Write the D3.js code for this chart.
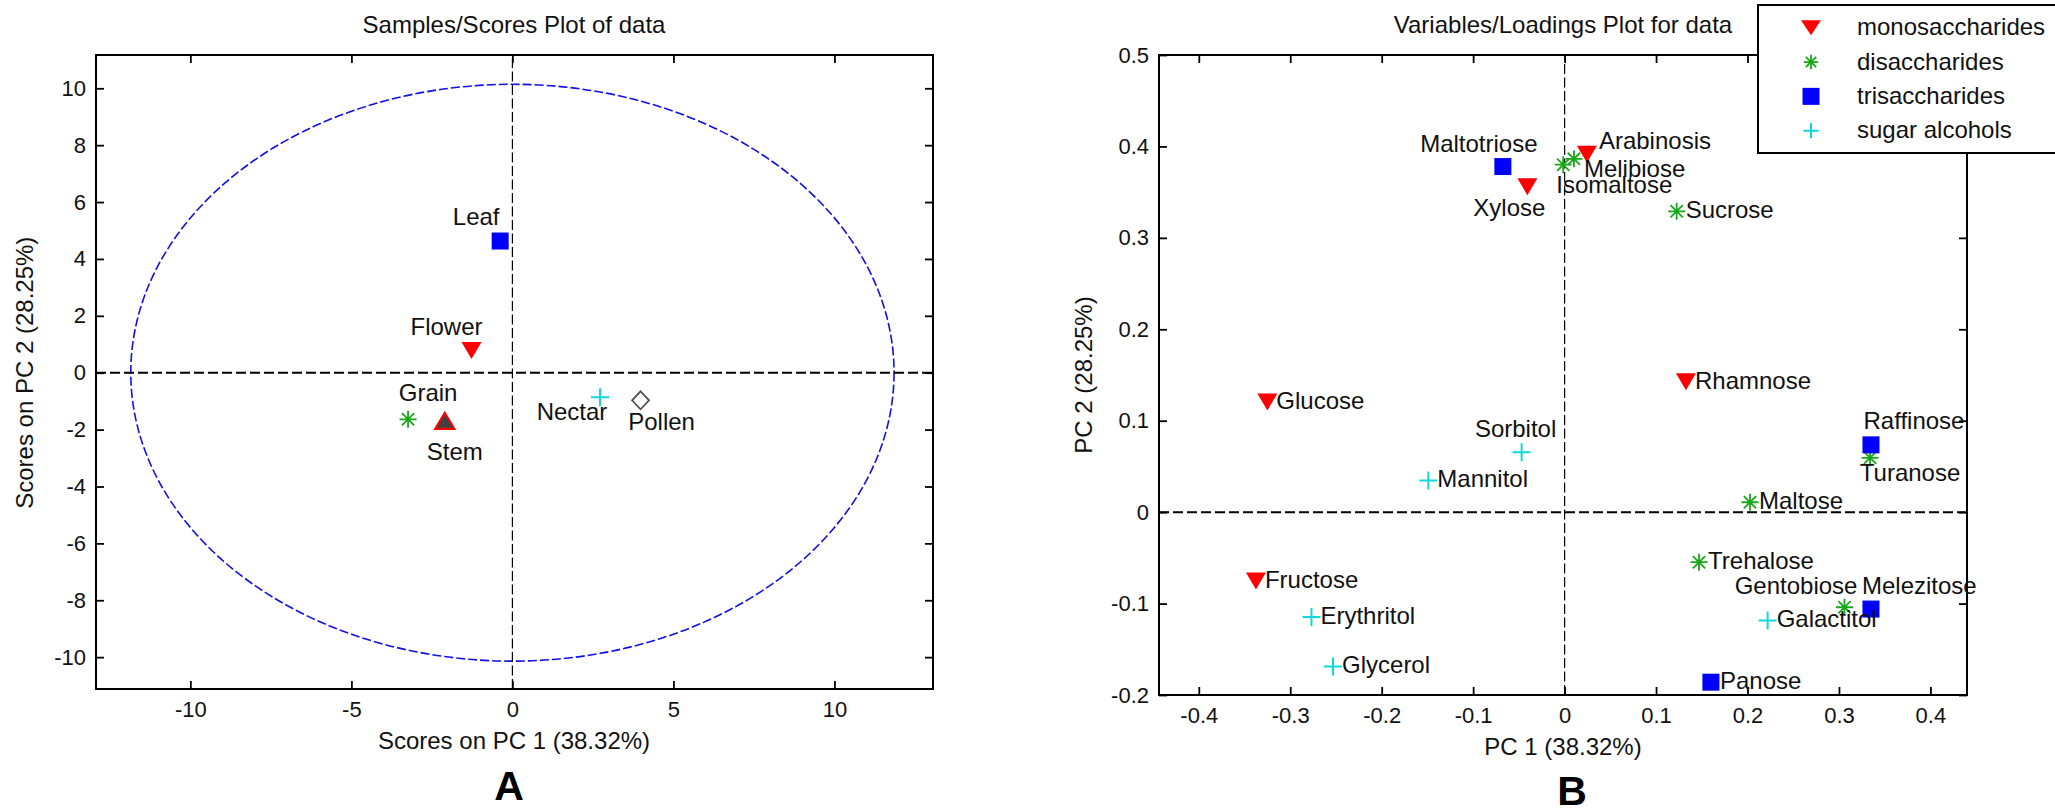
<!DOCTYPE html>
<html>
<head>
<meta charset="utf-8">
<script src="https://cdn.jsdelivr.net/npm/d3@7"></script>
<style>
  body { margin: 0; background: #fff; }
  text { font-family: "Liberation Sans", Arial, sans-serif; }
</style>
</head>
<body>
<svg id="chart" width="2055" height="809"></svg>
<script>
// ---- plot A: scores ----
var sampleNames = ["Leaf", "Flower", "Grain", "Stem", "Nectar", "Pollen"];
var samplePC1 = [-0.38, -1.27, -3.24, -2.10, 2.72, 3.98];
var samplePC2 = [4.63, 0.78, -1.64, -1.69, -0.86, -0.97];
var ellipseRadii = [11.85, 10.14];   // 95% confidence limit, PC1 / PC2

var scoreXTicks = [-10, -5, 0, 5, 10];
var scoreXLabels = ["-10", "-5", "0", "5", "10"];
var scoreYTicks = [-10, -8, -6, -4, -2, 0, 2, 4, 6, 8, 10];
var scoreYLabels = ["-10", "-8", "-6", "-4", "-2", "0", "2", "4", "6", "8", "10"];

// ---- plot B: loadings ----
var groupNames = ["monosaccharides", "disaccharides", "trisaccharides", "sugar alcohols"];

var monoNames = ["Arabinosis", "Xylose", "Rhamnose", "Glucose", "Fructose"];
var monoPC1 = [0.0244, -0.0407, 0.1327, -0.325, -0.3375];
var monoPC2 = [0.3915, 0.356, 0.1425, 0.1206, -0.0754];

var diNames = ["Melibiose", "Isomaltose", "Sucrose", "Maltose", "Trehalose", "Turanose", "Gentobiose"];
var diPC1 = [0.0102, -0.0015, 0.1225, 0.2027, 0.147, 0.334, 0.306];
var diPC2 = [0.3864, 0.380, 0.329, 0.0108, -0.0547, 0.0594, -0.104];

var triNames = ["Maltotriose", "Raffinose", "Melezitose", "Panose"];
var triPC1 = [-0.0675, 0.335, 0.335, 0.16];
var triPC2 = [0.378, 0.0736, -0.106, -0.186];

var alcNames = ["Sorbitol", "Mannitol", "Erythritol", "Glycerol", "Galactitol"];
var alcPC1 = [-0.047, -0.149, -0.2768, -0.2532, 0.222];
var alcPC2 = [0.0656, 0.0347, -0.1148, -0.1688, -0.1184];

var loadXTicks = [-0.4, -0.3, -0.2, -0.1, 0, 0.1, 0.2, 0.3, 0.4];
var loadXLabels = ["-0.4", "-0.3", "-0.2", "-0.1", "0", "0.1", "0.2", "0.3", "0.4"];
var loadYTicks = [-0.2, -0.1, 0, 0.1, 0.2, 0.3, 0.4, 0.5];
var loadYLabels = ["-0.2", "-0.1", "0", "0.1", "0.2", "0.3", "0.4", "0.5"];

// marker looks
var RED = "#ff0000", GREEN = "#18a818", BLUE = "#0000ff", CYAN = "#10d8dc";
var groupMarker = ["tridown", "asterisk", "square", "plus"];
var sampleMarker = ["square", "tridown", "asterisk", "triup", "plus", "diamond"];

// hand placed label nudges (pixels), [anchor, dx, dy]
var labelNudge = {
  Leaf: ["middle", -24, -16], Flower: ["middle", -25, -16], Grain: ["middle", 20, -18],
  Stem: ["middle", 10, 39], Nectar: ["middle", -28, 23], Pollen: ["middle", 21, 30],
  Maltotriose: ["middle", -24, -15], Xylose: ["middle", -18, 29], Arabinosis: ["start", 12, -5],
  Melibiose: ["start", 10, 18], Isomaltose: ["start", -7, 28], Sorbitol: ["middle", -6, -15],
  Raffinose: ["middle", 43, -16], Turanose: ["middle", 40, 23], Melezitose: ["start", -9, -15],
  Gentobiose: ["end", 13, -13]
};
var defaultNudge = ["start", 9, 7];

var svg = d3.select("#chart");
var FONT = "Liberation Sans, Arial, sans-serif";

function drawMarker(g, type, cx, cy, small) {
  var k = small ? 0.85 : 1;
  if (type == "square") {
    g.append("rect").attr("x", cx - 8.5).attr("y", cy - 8.5).attr("width", 17).attr("height", 17)
      .attr("fill", BLUE);
  } else if (type == "tridown") {
    var w = 10, h = small ? 7.5 : 8.5;
    g.append("path").attr("d", "M" + (cx - w) + "," + (cy - h) + "L" + (cx + w) + "," + (cy - h) + "L" + cx + "," + (cy + h) + "Z")
      .attr("fill", RED);
  } else if (type == "triup") {
    g.append("path").attr("d", "M" + (cx - 9.5) + "," + (cy + 8) + "L" + (cx + 9.5) + "," + (cy + 8) + "L" + cx + "," + (cy - 8) + "Z")
      .attr("fill", "#404040").attr("stroke", RED).attr("stroke-width", 2.2).attr("stroke-linejoin", "miter");
  } else if (type == "asterisk") {
    var r = 8.5 * k, d = r * 0.72;
    g.append("path").attr("d", "M" + (cx - r) + "," + cy + "H" + (cx + r) + "M" + cx + "," + (cy - r) + "V" + (cy + r) +
      "M" + (cx - d) + "," + (cy - d) + "L" + (cx + d) + "," + (cy + d) + "M" + (cx - d) + "," + (cy + d) + "L" + (cx + d) + "," + (cy - d))
      .attr("stroke", GREEN).attr("stroke-width", 1.8).attr("fill", "none");
  } else if (type == "plus") {
    var p = 9 * k;
    g.append("path").attr("d", "M" + (cx - p) + "," + cy + "H" + (cx + p) + "M" + cx + "," + (cy - p) + "V" + (cy + p))
      .attr("stroke", CYAN).attr("stroke-width", 2).attr("fill", "none");
  } else if (type == "diamond") {
    g.append("path").attr("d", "M" + cx + "," + (cy - 9) + "L" + (cx + 8.5) + "," + cy + "L" + cx + "," + (cy + 9) + "L" + (cx - 8.5) + "," + cy + "Z")
      .attr("fill", "none").attr("stroke", "#505050").attr("stroke-width", 1.7);
  }
}

function drawLabel(g, name, px, py) {
  var n = labelNudge[name] || defaultNudge;
  g.append("text").attr("x", px + n[1]).attr("y", py + n[2]).attr("text-anchor", n[0])
    .attr("font-size", 24).attr("fill", "#111").text(name);
}

function drawFrame(g, x, y, xTicks, xLabels, yTicks, yLabels) {
  var x0 = x.range()[0], x1 = x.range()[1], y0 = y.range()[0], y1 = y.range()[1];

  var bottom = g.append("g").attr("transform", "translate(0," + y0 + ")")
    .call(d3.axisBottom(x).tickValues(xTicks).tickFormat(function (d, i) { return xLabels[i]; })
      .tickSize(-8).tickSizeOuter(0).tickPadding(12));
  var top = g.append("g").attr("transform", "translate(0," + y1 + ")")
    .call(d3.axisTop(x).tickValues(xTicks).tickFormat("").tickSize(-8).tickSizeOuter(0));
  var left = g.append("g").attr("transform", "translate(" + x0 + ",0)")
    .call(d3.axisLeft(y).tickValues(yTicks).tickFormat(function (d, i) { return yLabels[i]; })
      .tickSize(-8).tickSizeOuter(0).tickPadding(10));
  var right = g.append("g").attr("transform", "translate(" + x1 + ",0)")
    .call(d3.axisRight(y).tickValues(yTicks).tickFormat("").tickSize(-8).tickSizeOuter(0));

  [bottom, top, left, right].forEach(function (a) {
    a.attr("font-size", 22).attr("font-family", FONT);
    a.select(".domain").remove();
    a.selectAll(".tick line").attr("stroke", "#000").attr("stroke-width", 1.8);
    a.selectAll(".tick text").attr("fill", "#111");
  });

  g.append("rect").attr("x", x0).attr("y", y1).attr("width", x1 - x0).attr("height", y0 - y1)
    .attr("fill", "none").attr("stroke", "#000").attr("stroke-width", 2);
}

function zeroLines(g, x, y) {
  g.append("line").attr("x1", x.range()[0]).attr("x2", x.range()[1]).attr("y1", y(0)).attr("y2", y(0))
    .attr("stroke", "#000").attr("stroke-width", 2).attr("stroke-dasharray", "10,4");
  g.append("line").attr("x1", x(0)).attr("x2", x(0)).attr("y1", y.range()[0]).attr("y2", y.range()[1])
    .attr("stroke", "#000").attr("stroke-width", 1.2).attr("stroke-dasharray", "10,3.5");
}

// ================= plot A =================
var xA = d3.scaleLinear().domain([-12.93, 13.06]).range([96, 933]);
var yA = d3.scaleLinear().domain([-11.12, 11.17]).range([689, 55]);
var gA = svg.append("g");

gA.append("ellipse").attr("cx", xA(0)).attr("cy", yA(0))
  .attr("rx", xA(ellipseRadii[0]) - xA(0)).attr("ry", yA(0) - yA(ellipseRadii[1]))
  .attr("fill", "none").attr("stroke", "#1010e8").attr("stroke-width", 1.6).attr("stroke-dasharray", "9,3");

zeroLines(gA, xA, yA);
drawFrame(gA, xA, yA, scoreXTicks, scoreXLabels, scoreYTicks, scoreYLabels);

sampleNames.forEach(function (name, i) {
  var px = xA(samplePC1[i]), py = yA(samplePC2[i]);
  drawMarker(gA, sampleMarker[i], px, py, false);
  drawLabel(gA, name, px, py);
});

gA.append("text").attr("x", 514).attr("y", 33).attr("text-anchor", "middle").attr("font-size", 24)
  .attr("fill", "#111").text("Samples/Scores Plot of data");
gA.append("text").attr("x", 514).attr("y", 749).attr("text-anchor", "middle").attr("font-size", 24)
  .attr("fill", "#111").text("Scores on PC 1 (38.32%)");
gA.append("text").attr("transform", "translate(33," + yA(0) + ") rotate(-90)").attr("text-anchor", "middle")
  .attr("font-size", 24).attr("fill", "#111").text("Scores on PC 2 (28.25%)");
gA.append("text").attr("x", 509).attr("y", 800).attr("text-anchor", "middle").attr("font-size", 41)
  .attr("font-weight", "bold").text("A");

// ================= plot B =================
var xB = d3.scaleLinear().domain([-0.4435, 0.44]).range([1159, 1967]);
var yB = d3.scaleLinear().domain([-0.2, 0.5]).range([695, 55]);
var gB = svg.append("g");

zeroLines(gB, xB, yB);
drawFrame(gB, xB, yB, loadXTicks, loadXLabels, loadYTicks, loadYLabels);

var groupNamesList = [monoNames, diNames, triNames, alcNames];
var groupPC1 = [monoPC1, diPC1, triPC1, alcPC1];
var groupPC2 = [monoPC2, diPC2, triPC2, alcPC2];

groupNamesList.forEach(function (names, gi) {
  names.forEach(function (name, i) {
    var px = xB(groupPC1[gi][i]), py = yB(groupPC2[gi][i]);
    drawMarker(gB, groupMarker[gi], px, py, false);
    drawLabel(gB, name, px, py);
  });
});

gB.append("text").attr("x", 1563).attr("y", 33).attr("text-anchor", "middle").attr("font-size", 24)
  .attr("fill", "#111").text("Variables/Loadings Plot for data");
gB.append("text").attr("x", 1563).attr("y", 755).attr("text-anchor", "middle").attr("font-size", 24)
  .attr("fill", "#111").text("PC 1 (38.32%)");
gB.append("text").attr("transform", "translate(1092," + ((yB.range()[0] + yB.range()[1]) / 2) + ") rotate(-90)")
  .attr("text-anchor", "middle").attr("font-size", 24).attr("fill", "#111").text("PC 2 (28.25%)");
gB.append("text").attr("x", 1572).attr("y", 805).attr("text-anchor", "middle").attr("font-size", 41)
  .attr("font-weight", "bold").text("B");

// legend
var leg = svg.append("g");
leg.append("rect").attr("x", 1758).attr("y", 5).attr("width", 320).attr("height", 148)
  .attr("fill", "#fff").attr("stroke", "#000").attr("stroke-width", 2);
var legRow = d3.scalePoint().domain(groupNames).range([27.7, 130.7]);
groupNames.forEach(function (name, i) {
  drawMarker(leg, groupMarker[i], 1811, legRow(name), true);
  leg.append("text").attr("x", 1857).attr("y", legRow(name) + 7.5).attr("font-size", 24)
    .attr("fill", "#111").text(name);
});
</script>
</body>
</html>
